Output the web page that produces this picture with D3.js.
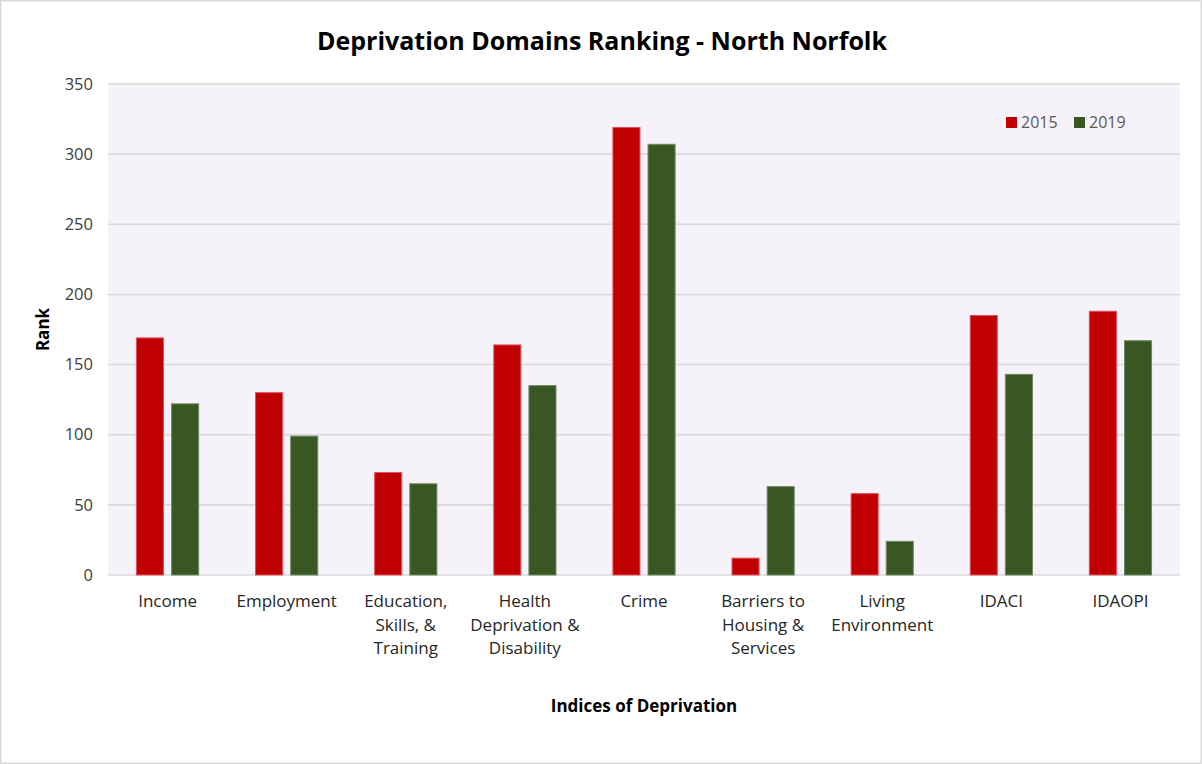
<!DOCTYPE html>
<html>
<head>
<meta charset="utf-8">
<script src="https://cdn.jsdelivr.net/npm/d3@7"></script>
<style>
  body { margin: 0; background: #fff; }
  text { font-family: "Open Sans", "Noto Sans", sans-serif; }
</style>
</head>
<body>
<div id="chart"></div>
<script>
// chart values
const categories = [
  ["Income"],
  ["Employment"],
  ["Education,", "Skills, &", "Training"],
  ["Health", "Deprivation &", "Disability"],
  ["Crime"],
  ["Barriers to", "Housing &", "Services"],
  ["Living", "Environment"],
  ["IDACI"],
  ["IDAOPI"]
];
const years = ["2015", "2019"];
const values2015 = [169, 130, 73, 164, 319, 12, 58, 185, 188];
const values2019 = [122, 99, 65, 135, 307, 63, 24, 143, 167];
const yTicks = [0, 50, 100, 150, 200, 250, 300, 350];
const colors = ["#c00000", "#385723"];

const width = 1202;
const height = 764;
const plot = { left: 108, right: 1180, top: 84, bottom: 575 };

const svg = d3.select("#chart")
              .append("svg")
              .attr("width", width)
              .attr("height", height);

// outer frame
svg.append("rect")
   .attr("x", 0.5).attr("y", 0.5)
   .attr("width", width - 1).attr("height", height - 1)
   .style("fill", "#fff")
   .style("stroke", "#d9d9d9")
   .style("stroke-width", 2);

svg.append("rect")
   .attr("x", plot.left).attr("y", plot.top)
   .attr("width", plot.right - plot.left)
   .attr("height", plot.bottom - plot.top)
   .style("fill", "#f6f2f9");

const x = d3.scaleBand()
            .domain(d3.range(categories.length))
            .range([plot.left, plot.right]);

const xInner = d3.scaleBand()
                 .domain(years)
                 .range([0, x.bandwidth()])
                 .paddingInner(0.23)
                 .paddingOuter(0.81);

const y = d3.scaleLinear()
            .domain([0, 350])
            .range([plot.bottom, plot.top]);

// gridlines
svg.append("g")
   .selectAll("line")
   .data(yTicks)
   .enter().append("line")
     .attr("x1", plot.left).attr("x2", plot.right)
     .attr("y1", d => y(d)).attr("y2", d => y(d))
     .style("stroke", "#d9d9d9")
     .style("stroke-width", 1.6);

// y tick labels
const yAxis = svg.append("g")
   .attr("transform", `translate(${plot.left - 15},0)`)
   .call(d3.axisLeft(y).tickValues(yTicks).tickSize(0).tickPadding(0));
yAxis.select(".domain").remove();
yAxis.selectAll("text")
     .style("font-size", "16.5px")
     .style("fill", "#404040");

// bars
const series = [values2015, values2019];
const groups = svg.append("g")
   .selectAll("g")
   .data(categories.map((c, i) => i))
   .enter().append("g")
     .attr("transform", i => `translate(${x(i)},0)`);

groups.selectAll("rect")
   .data(i => years.map((yr, k) => ({ yr, k, v: series[k][i] })))
   .enter().append("rect")
     .attr("x", d => xInner(d.yr))
     .attr("y", d => y(d.v))
     .attr("width", xInner.bandwidth())
     .attr("height", d => y(0) - y(d.v))
     .style("fill", d => colors[d.k])
     .style("stroke", d => d.k === 0 ? "#e05060" : "#6f8a60")
     .style("stroke-width", 1);

// category labels
const catLabels = svg.append("g")
   .selectAll("text")
   .data(categories)
   .enter().append("text")
     .attr("x", (d, i) => x(i) + x.bandwidth() / 2)
     .attr("y", 607)
     .attr("text-anchor", "middle")
     .style("font-size", "17px")
     .style("fill", "#262626");
catLabels.selectAll("tspan")
   .data(d => d)
   .enter().append("tspan")
     .attr("x", function() { return this.parentNode.getAttribute("x"); })
     .attr("dy", (d, i) => i === 0 ? 0 : 23.5)
     .text(d => d);

// title
svg.append("text")
   .attr("x", 602).attr("y", 50)
   .attr("text-anchor", "middle")
   .style("font-size", "25px")
   .style("font-weight", "bold")
   .style("fill", "#000")
   .text("Deprivation Domains Ranking - North Norfolk");

// axis titles
svg.append("text")
   .attr("transform", `translate(49,${(plot.top + plot.bottom) / 2}) rotate(-90)`)
   .attr("text-anchor", "middle")
   .style("font-size", "17px")
   .style("font-weight", "bold")
   .style("fill", "#000")
   .text("Rank");

svg.append("text")
   .attr("x", (plot.left + plot.right) / 2).attr("y", 712)
   .attr("text-anchor", "middle")
   .style("font-size", "17px")
   .style("font-weight", "bold")
   .style("fill", "#000")
   .text("Indices of Deprivation");

// legend
const legend = svg.append("g")
   .selectAll("g")
   .data(years)
   .enter().append("g")
     .attr("transform", (d, i) => `translate(${1006 + i * 68},117)`);
legend.append("rect")
   .attr("width", 11).attr("height", 11)
   .style("fill", (d, i) => colors[i]);
legend.append("text")
   .attr("x", 15).attr("y", 11)
   .style("font-size", "16px")
   .style("fill", "#595959")
   .text(d => d);
</script>
</body>
</html>
